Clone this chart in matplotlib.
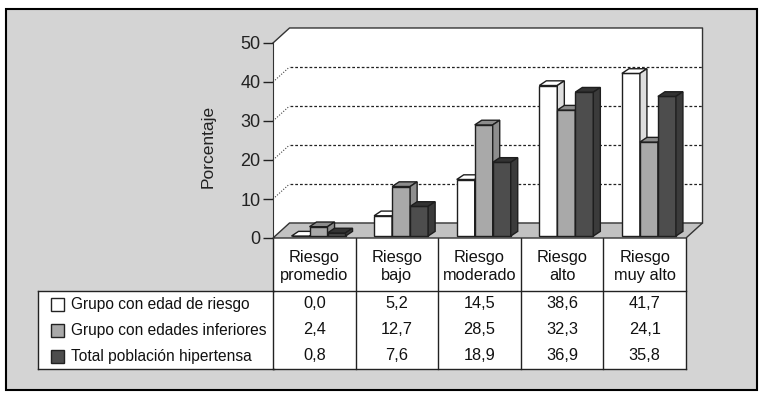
import matplotlib
matplotlib.use('Agg')
import matplotlib.pyplot as plt
from matplotlib import font_manager
from matplotlib.patches import Polygon, Rectangle
from matplotlib.transforms import blended_transform_factory

categorias = ['Riesgo\npromedio', 'Riesgo\nbajo', 'Riesgo\nmoderado', 'Riesgo\nalto', 'Riesgo\nmuy alto']
series = ['Grupo con edad de riesgo', 'Grupo con edades inferiores', 'Total población hipertensa']
edad_riesgo = [0.0, 5.2, 14.5, 38.6, 41.7]
edades_inferiores = [2.4, 12.7, 28.5, 32.3, 24.1]
total_hipertensa = [0.8, 7.6, 18.9, 36.9, 35.8]
yticks = [0, 10, 20, 30, 40, 50]

datos = [edad_riesgo, edades_inferiores, total_hipertensa]
# front, top, side colour of each series
colores = [('#ffffff', '#ffffff', '#dedede'),
           ('#a9a9a9', '#8c8c8c', '#8e8e8e'),
           ('#4d4d4d', '#333333', '#3b3b3b')]

nombres = {f.name for f in font_manager.fontManager.ttflist}
if 'Liberation Sans Narrow' in nombres:
    FUENTE, FS = 'Liberation Sans Narrow', 13.3
else:
    FUENTE, FS = 'Liberation Sans', 11.2
plt.rcParams['font.family'] = [FUENTE, 'DejaVu Sans']

W, H = 765, 395
fig = plt.figure(figsize=(W / 100, H / 100), dpi=100)
fig.patch.set_facecolor('white')

# pixel canvas for the frame and the table
bg = fig.add_axes([0, 0, 1, 1], zorder=0)
bg.set_xlim(0, W)
bg.set_ylim(H, 0)
bg.axis('off')
bg.add_patch(Rectangle((6, 9), 751, 381, facecolor='#d4d4d4', edgecolor='black', lw=1.5))

ax = fig.add_axes([273 / W, 1 - 238 / H, 413 / W, 195 / H], zorder=1)
ax.set_xlim(-0.5, len(categorias) - 0.5)
ax.set_ylim(0, 50)
ax.patch.set_visible(False)
for s in ['top', 'right', 'bottom']:
    ax.spines[s].set_visible(False)
ax.spines['left'].set_color('#333333')
ax.set_xticks([])
ax.set_yticks(yticks)
ax.tick_params(axis='y', length=7, width=1, pad=2, labelsize=13, colors='#222222')
ax.set_ylabel('Porcentaje', fontsize=12.5, color='#222222')
ax.yaxis.set_label_coords(-0.14, 0.47)

n = len(categorias)
x_izq, x_der = -0.5, n - 0.5
DX, DY = 0.2, 3.85  # wall depth

# walls and floor
ax.add_patch(Polygon([(x_izq, 0), (x_izq, 50), (x_izq + DX, 50 + DY), (x_der + DX, 50 + DY),
                      (x_der + DX, DY), (x_izq + DX, DY)],
                     facecolor='white', edgecolor='none', clip_on=False, zorder=0))
ax.plot([x_izq, x_izq + DX, x_der + DX, x_der + DX], [50, 50 + DY, 50 + DY, DY],
        color='#333333', lw=1, clip_on=False, zorder=1)
for v in yticks[1:-1]:
    ax.plot([x_izq, x_izq + DX], [v, v + DY], color='#444444', lw=0.8,
            ls=(0, (1, 1.5)), clip_on=False, zorder=1)
    ax.plot([x_izq + DX, x_der + DX], [v + DY, v + DY], color='#222222', lw=0.9,
            ls=(0, (2.2, 1.6)), clip_on=False, zorder=1)
ax.add_patch(Polygon([(x_izq, 0), (x_izq + DX, DY), (x_der + DX, DY), (x_der, 0)],
                     facecolor='#c2c2c2', edgecolor='#333333', lw=1, clip_on=False, zorder=2))

# 3D bars
BW = 0.218
BX0 = -0.5 + 0.224
BY0 = 0.5
ddx, ddy = 0.085, 1.2
for j, vals in enumerate(datos):
    cf, ct, cs = colores[j]
    xs = [i + BX0 + j * BW for i in range(n)]
    ax.bar(xs, vals, width=BW, bottom=BY0, align='edge', color=cf,
           edgecolor='#1e1e1e', lw=1, zorder=3 + j, clip_on=False)
    for x0, v in zip(xs, vals):
        x1 = x0 + BW
        y1 = BY0 + v
        ax.add_patch(Polygon([(x0, y1), (x0 + ddx, y1 + ddy), (x1 + ddx, y1 + ddy), (x1, y1)],
                             facecolor=ct, edgecolor='#1e1e1e', lw=1, zorder=3 + j, clip_on=False))
        ax.add_patch(Polygon([(x1, BY0), (x1 + ddx, BY0 + ddy), (x1 + ddx, y1 + ddy), (x1, y1)],
                             facecolor=cs, edgecolor='#1e1e1e', lw=1, zorder=3 + j, clip_on=False))

# data table
tr = blended_transform_factory(ax.transData, bg.transData)
y_top, y_head, y_bot = 238, 291, 369
fila = (y_bot - y_head) / 3
bg.add_patch(Rectangle((x_izq, y_top), n, y_bot - y_top, transform=tr,
                       facecolor='white', edgecolor='none'))
bg.add_patch(Rectangle((38, y_head), 273 - 38, y_bot - y_head,
                       facecolor='white', edgecolor='none'))
for k in range(n + 1):
    bg.plot([x_izq + k, x_izq + k], [y_top, y_bot], transform=tr, color='#222222', lw=1)
for yy in [y_head, y_bot]:
    bg.plot([x_izq, x_der], [yy, yy], transform=tr, color='#222222', lw=1)
    bg.plot([38, 274], [yy, yy], color='#222222', lw=1)
bg.plot([38, 38], [y_head, y_bot], color='#222222', lw=1)

for i, c in enumerate(categorias):
    bg.text(i, (y_top + y_head) / 2 + 2, c, transform=tr, ha='center', va='center',
            fontsize=FS + 0.6, linespacing=1.2, color='#111111')

for j, (nombre, vals) in enumerate(zip(series, datos)):
    yc = y_head + fila * (j + 0.5)
    bg.add_patch(Rectangle((51, yc - 6.5), 13, 13, facecolor=colores[j][0],
                           edgecolor='#222222', lw=1))
    bg.text(71, yc, nombre, ha='left', va='center', fontsize=FS, color='#111111')
    for i, v in enumerate(vals):
        bg.text(i, yc, f'{v:.1f}'.replace('.', ','), transform=tr, ha='center',
                va='center', fontsize=FS + 0.6, color='#111111')

fig.savefig('out.png', dpi=100)
